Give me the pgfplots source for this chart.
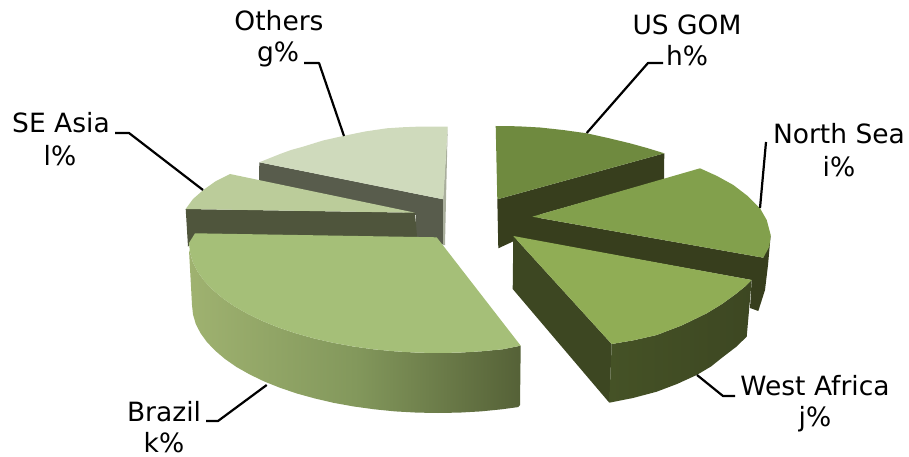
\documentclass[border=0pt]{standalone}
\usepackage{pgfplots}
\pgfplotsset{compat=1.18}
\usepackage{fontspec}
\setmainfont{DejaVu Sans}
\definecolor{othersTop}{HTML}{CFDABC}
\definecolor{othersSide}{HTML}{585C4C}
\definecolor{othersEdge}{HTML}{A9AE9C}
\definecolor{seTop}{HTML}{BBCC9A}
\definecolor{seSide}{HTML}{4F553C}
\definecolor{brTop}{HTML}{A5BF78}
\definecolor{brL}{HTML}{9FB270}
\definecolor{brM}{HTML}{83985C}
\definecolor{brR}{HTML}{556137}
\definecolor{usTop}{HTML}{6F8A3F}
\definecolor{usSide}{HTML}{373E1D}
\definecolor{nsTop}{HTML}{82A04C}
\definecolor{waTop}{HTML}{90AD55}
\definecolor{waSide}{HTML}{3D4722}
\definecolor{waSideL}{HTML}{455226}
\tikzset{
	lbl/.style={font=\fontsize{26.5}{30}\selectfont, anchor=base, inner sep=0pt},
	leader/.style={draw=black, line width=2.2pt, line join=round},
}
\begin{document}
\begin{tikzpicture}
\begin{axis}[
	width=909pt, height=457pt, scale only axis,
	xmin=0, xmax=909, ymin=0, ymax=457,
	y dir=reverse, hide axis, clip=false,
	every axis plot/.append style={no markers, forget plot},
	]
	% keep the page the size of the axis
	\path (axis cs:0,0) rectangle (axis cs:909,457);
	% Others
	\addplot[fill=othersSide, draw=none] coordinates {(259.3,162.3) (443.3,199.3) (445,245) (416,238) (416,215) (259,183)};
	\addplot[fill=othersEdge, draw=none] coordinates {(447.7,127) (446,200) (445,245) (443,245) (443,199)};
	\addplot[fill=othersTop, draw=none] coordinates {(447.7,126.7) (443.3,199.3) (259.3,162.3) (270,158) (280,154) (291,150) (303,146.7) (323,140.5) (343,136) (365,131.5) (386.7,128.3) (402,127.3) (417,126.7)};
	% SE Asia
	\addplot[fill=seSide, draw=none] coordinates {(185.7,209) (415,212.7) (417.3,240) (196.7,238) (188,246.7)};
	\addplot[fill=seTop, draw=none] coordinates {(230,174) (415,212.7) (185.7,209) (193,199) (203.3,190) (216,181)};
	% Brazil
	\addplot[left color=brL, right color=brR, middle color=brM, draw=none] coordinates {(189,250) (190,252.6) (192.8,262.1) (197.5,271.5) (204,280.6) (212.4,289.5) (222.4,298) (234,306.1) (247.3,313.7) (262,320.8) (277.9,327.3) (295.1,333.1) (313.5,338.3) (332.7,342.7) (352.8,346.4) (373.5,349.3) (394.7,351.3) (416.3,352.6) (438,353) (459.7,352.6) (481.2,351.3) (502.5,349.3) (520.7,345.7) (520,405) (518.2,407.1) (501.7,409.3) (480.8,411.4) (459.4,412.6) (438,413) (416.6,412.6) (395.2,411.4) (374.3,409.3) (353.9,406.5) (333.9,402.9) (315,398.5) (296.8,393.5) (279.8,387.7) (264.1,381.4) (249.6,374.4) (236.5,367) (225,359) (215.1,350.6) (206.8,341.9) (200.4,333) (195.7,323.8) (193,314.4) (192,305)};
	\addplot[fill=brTop, draw=none] coordinates {(195,233.3) (436.7,237.3) (520.7,345.7) (502.5,349.3) (481.2,351.3) (459.7,352.6) (438,353) (416.3,352.6) (394.7,351.3) (373.5,349.3) (352.8,346.4) (332.7,342.7) (313.5,338.3) (295.1,333.1) (277.9,327.3) (262,320.8) (247.3,313.7) (234,306.1) (222.4,298) (212.4,289.5) (204,280.6) (197.5,271.5) (192.8,262.1) (190,252.6) (189,243)};
	% US GOM
	\addplot[fill=usSide, draw=none] coordinates {(497.3,199.3) (664.3,153.3) (664,179.3) (540,214.5) (540,234) (513,241.5) (498.3,248.3)};
	\addplot[fill=usTop, draw=none] coordinates {(495.7,126) (518,126.3) (540,127.5) (563,130) (586.7,133.3) (608,138) (630,143.3) (647,148) (664.3,153.3) (497.3,199.3)};
	% North Sea
	\addplot[fill=usSide, draw=none] coordinates {(532.3,216.7) (763.3,257.7) (770.7,235) (768,265) (765,290) (758.3,311) (750,308) (751.7,280) (513.3,236.7)};
	\addplot[fill=nsTop, draw=none] coordinates {(700,168.3) (717,176) (733.3,185) (747,195.5) (760,208.3) (766.7,220) (770.7,235) (769.3,246.7) (763.3,257.7) (532.3,216.7)};
	% West Africa
	\addplot[fill=waSide, draw=none] coordinates {(513.3,236) (611.7,344) (609.3,402.7) (512.7,289)};
	\addplot[left color=waSideL, right color=waSide, draw=none] coordinates {(611.7,344) (634,340.2) (656.7,335) (682,325.3) (706.7,313.3) (722,304) (736.7,293.3) (745,286.5) (751.7,280) (746.7,336.7) (736,347) (723.3,356.7) (711,366.5) (696.7,375) (677,384) (656.7,391.7) (633,398) (609.3,402.7)};
	\addplot[fill=waTop, draw=none] coordinates {(513.3,236) (751.7,280) (745,286.5) (736.7,293.3) (722,304) (706.7,313.3) (682,325.3) (656.7,335) (634,340.2) (611.7,344)};
	% leader lines
	\addplot[leader] coordinates {(344,136) (319,63) (304,63)};
	\addplot[leader] coordinates {(586.7,133) (648,63) (663,63)};
	\addplot[leader] coordinates {(760,208) (766,142)};
	\addplot[leader] coordinates {(203,190) (129,133) (115,133)};
	\addplot[leader] coordinates {(266.7,385) (218,421) (206,421)};
	\addplot[leader] coordinates {(697,375) (723,396) (735,396)};
	% labels
	\node[lbl] at (axis cs:279,31) {Others};
	\node[lbl] at (axis cs:278,62) {g\%};
	\node[lbl] at (axis cs:687,35) {US GOM};
	\node[lbl] at (axis cs:687,66) {h\%};
	\node[lbl] at (axis cs:839,144) {North Sea};
	\node[lbl] at (axis cs:839,176) {i\%};
	\node[lbl] at (axis cs:61,133) {SE Asia};
	\node[lbl] at (axis cs:60,165.5) {l\%};
	\node[lbl] at (axis cs:164,421) {Brazil};
	\node[lbl] at (axis cs:164,452.5) {k\%};
	\node[lbl] at (axis cs:815,395) {West Africa};
	\node[lbl] at (axis cs:815,426) {j\%};
\end{axis}
\end{tikzpicture}
\end{document}
